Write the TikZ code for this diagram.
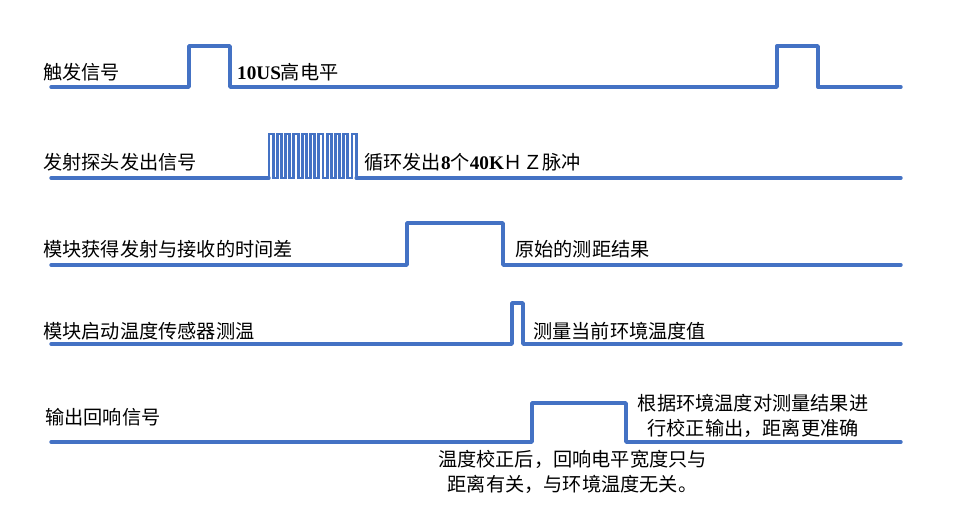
\documentclass[tikz,border=0pt]{standalone}
\usepackage{fontspec}
\setmainfont{Liberation Serif}
\newfontfamily\cjk{Noto Sans CJK SC}
\usepackage{tikz}
\usetikzlibrary{
  positioning
}
\definecolor{wblue}{RGB}{68,114,196}
\tikzset{
  wave/.style={draw=wblue,line width=3.4pt,line cap=round,line join=round},
  burst/.style={wave,line width=2.9pt,line join=miter},
  lbl/.style={anchor=west,inner sep=0pt,font=\cjk\fontsize{19.2}{25}\selectfont},
  note/.style={lbl,anchor=center,align=center}
}

\begin{document}
\begin{tikzpicture}[x=1pt,y=-1pt]
\useasboundingbox (0,0) rectangle (956,508);
\draw[wave] (51,87) -- (189,87) -- (189,46) -- (230,46) -- (230,87) -- (777,87) -- (777,46) -- (818,46) -- (818,87) -- (901,87);
\draw[wave] (51,178) -- (269,178);
\draw[burst] (269,178) foreach \i in {0,...,10} { -- ({269+8.3*\i},178) -- ++(0,-44) -- ++(4.15,0) -- ++(0,44) };
\draw[wave] (356.15,178) -- (901,178);
\draw[wave] (51,265) -- (407,265) -- (407,223) -- (503,223) -- (503,265) -- (901,265);
\draw[wave] (51,344) -- (512,344) -- (512,303) -- (523,303) -- (523,344) -- (901,344);
\draw[wave] (51,442) -- (532,442) -- (532,403) -- (626,403) -- (626,442) -- (901,442);
\node[lbl] (trig) at (43,72) {触发信号};
\node[lbl] (trignote) at (237,72) {{\rmfamily\bfseries 10US}高电平};
\node[lbl] (emit) at (43,162) {发射探头发出信号};
\node[lbl] (emitnote) at (364,162) {循环发出{\rmfamily\bfseries 8}个{\rmfamily\bfseries 40K}ＨＺ脉冲};
\node[lbl] (echo) at (43,249) {模块获得发射与接收的时间差};
\node[lbl] (echonote) at (515,249) {原始的测距结果};
\node[lbl] (temp) at (43,331) {模块启动温度传感器测温};
\node[lbl] (tempnote) at (533,331) {测量当前环境温度值};
\node[lbl] (out) at (45,417) {输出回响信号};
\node[note] (outnote) at (753,415.5) {根据环境温度对测量结果进\\行校正输出，距离更准确};
\node[note] (widthnote) at (572.5,471.5) {温度校正后，回响电平宽度只与\\距离有关，与环境温度无关。};
\end{tikzpicture}
\end{document}
